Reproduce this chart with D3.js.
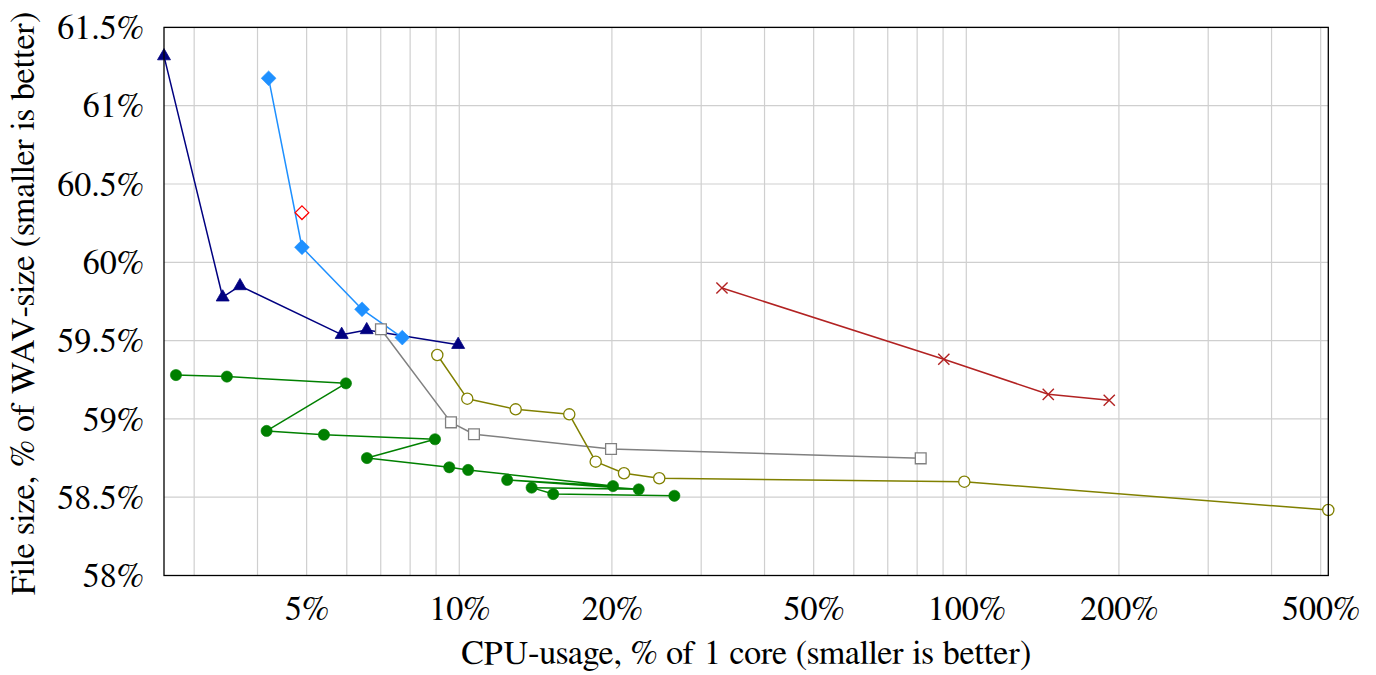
<!DOCTYPE html>
<html>
<head>
<meta charset="utf-8">
<script src="https://cdn.jsdelivr.net/npm/d3@7"></script>
<style>
  html, body { margin: 0; padding: 0; background: #fff; }
  svg { display: block; }
</style>
</head>
<body>
<svg id="chart" width="1376" height="675"></svg>
<script>
// ---------- data (CPU-usage % of 1 core, file size % of WAV) ----------
const navyX  = [2.616, 3.415, 3.694, 5.862, 6.568, 9.95];
const navyY  = [61.317, 59.777, 59.849, 59.538, 59.568, 59.474];

const blueX  = [4.207, 4.895, 6.43, 7.72];
const blueY  = [61.175, 60.096, 59.70, 59.519];

const redX   = [4.895];
const redY   = [60.317];

const grayX  = [7.007, 9.63, 10.69, 19.92, 81.3];
const grayY  = [59.572, 58.978, 58.902, 58.808, 58.748];

const oliveX = [9.05, 10.37, 12.92, 16.48, 18.58, 21.13, 24.8, 99.1, 517.6];
const oliveY = [59.408, 59.129, 59.061, 59.029, 58.727, 58.653, 58.621, 58.599, 58.418];

const crossX = [32.97, 90.3, 145.1, 191.4];
const crossY = [59.836, 59.381, 59.157, 59.119];

const greenX = [2.762, 3.481, 5.977, 4.169, 5.409, 8.956, 6.575, 9.556, 10.41, 20.1, 12.43, 22.59, 13.89, 15.32, 26.56];
const greenY = [59.280, 59.270, 59.227, 58.923, 58.899, 58.870, 58.750, 58.691, 58.674, 58.571, 58.610, 58.550, 58.561, 58.520, 58.509];

const xTickValues = [5, 10, 20, 50, 100, 200, 500];
const xTickLabels = ["5%", "10%", "20%", "50%", "100%", "200%", "500%"];
const xGridValues = [3, 4, 5, 6, 7, 8, 9, 10, 20, 30, 40, 50, 60, 70, 80, 90, 100, 200, 300, 400, 500];
const yTickValues = [58, 58.5, 59, 59.5, 60, 60.5, 61, 61.5];
const yTickLabels = ["58%", "58.5%", "59%", "59.5%", "60%", "60.5%", "61%", "61.5%"];

const xLabel = "CPU-usage, % of 1 core (smaller is better)";
const yLabel = "File size, % of WAV-size (smaller is better)";

// ---------- layout ----------
const FONT = "FreeSerif, 'Liberation Serif', serif";
const L = 164, R = 1328.3, T = 27.4, B = 575.5;
const allX = [].concat(navyX, blueX, redX, grayX, oliveX, crossX, greenX);

const x = d3.scaleLog().domain(d3.extent(allX)).range([L, R]);
const y = d3.scaleLinear().domain([58, 61.5]).range([B, T]);

const svg = d3.select("#chart");

// grid
const grid = svg.append("g").attr("stroke", "#cfcfcf").attr("stroke-width", 1.2);
grid.selectAll("line.vx").data(xGridValues).join("line")
  .attr("x1", d => x(d)).attr("x2", d => x(d)).attr("y1", T).attr("y2", B);
grid.selectAll("line.hy").data(yTickValues).join("line")
  .attr("x1", L).attr("x2", R).attr("y1", d => y(d)).attr("y2", d => y(d));

// axes (labels only, via d3 axis)
const fs = 34;
const xAxis = d3.axisBottom(x).tickValues(xTickValues)
  .tickFormat((d, i) => xTickLabels[i]).tickSize(0).tickPadding(0);
const gx = svg.append("g").attr("transform", `translate(0,${B})`).call(xAxis)
  .attr("font-family", FONT).attr("font-size", fs);
gx.select(".domain").remove();
gx.selectAll("text").attr("font-family", FONT).attr("font-size", fs)
  .attr("dy", null).attr("y", 44).attr("fill", "#000");

const yAxis = d3.axisLeft(y).tickValues(yTickValues)
  .tickFormat((d, i) => yTickLabels[i]).tickSize(0).tickPadding(0);
const gy = svg.append("g").attr("transform", `translate(${L},0)`).call(yAxis)
  .attr("font-family", FONT).attr("font-size", fs);
gy.select(".domain").remove();
gy.selectAll("text").attr("font-family", FONT).attr("font-size", fs)
  .attr("x", -20).attr("dy", "0.33em").attr("fill", "#000");

// axis titles
svg.append("text").attr("x", (L + R) / 2).attr("y", 664)
  .attr("font-family", FONT).attr("font-size", fs)
  .attr("text-anchor", "middle").text(xLabel);
svg.append("text").attr("transform", `translate(34,${(T + B) / 2 + 2}) rotate(-90)`)
  .attr("font-family", FONT).attr("font-size", fs)
  .attr("text-anchor", "middle").text(yLabel);

// ---------- series ----------
const plot = svg.append("g");
const line = d3.line().x(d => x(d[0])).y(d => y(d[1]));
function zip(a, b) { return a.map((v, i) => [v, b[i]]); }

function drawSeries(xs, ys, color, marker, drawLine = true) {
  const pts = zip(xs, ys);
  const g = plot.append("g");
  if (drawLine && pts.length > 1) {
    g.append("path").datum(pts).attr("d", line)
      .attr("fill", "none").attr("stroke", color).attr("stroke-width", 1.5)
      .attr("stroke-linejoin", "round");
  }
  const m = g.selectAll("path.m").data(pts).join("path")
    .attr("class", "m")
    .attr("transform", d => `translate(${x(d[0])},${y(d[1])})`);
  marker(m, color);
}

const triangle = (sel, c) => {
  const r = 7.5;
  const p = `M0,${-r} L${r * 0.866},${r * 0.5} L${-r * 0.866},${r * 0.5} Z`;
  sel.attr("d", p).attr("fill", c).attr("stroke", c).attr("stroke-width", 0.8);
};
const diamondFill = (sel, c) => {
  const r = 7.4;
  sel.attr("d", `M0,${-r} L${r},0 L0,${r} L${-r},0 Z`).attr("fill", c).attr("stroke", c).attr("stroke-width", 0.6);
};
const diamondOpen = (sel, c) => {
  const r = 6.8;
  sel.attr("d", `M0,${-r} L${r},0 L0,${r} L${-r},0 Z`).attr("fill", "#fff").attr("stroke", c).attr("stroke-width", 1.3);
};
const squareOpen = (sel, c) => {
  const r = 5.4;
  sel.attr("d", `M${-r},${-r} H${r} V${r} H${-r} Z`).attr("fill", "#fff").attr("stroke", c).attr("stroke-width", 1.3);
};
const circleOpen = (sel, c) => {
  const r = 5.6;
  sel.attr("d", d3.arc()({innerRadius: 0, outerRadius: r, startAngle: 0, endAngle: 2 * Math.PI}))
    .attr("fill", "#fff").attr("stroke", c).attr("stroke-width", 1.3);
};
const circleFill = (sel, c) => {
  const r = 5.6;
  sel.attr("d", d3.arc()({innerRadius: 0, outerRadius: r, startAngle: 0, endAngle: 2 * Math.PI}))
    .attr("fill", c).attr("stroke", c).attr("stroke-width", 0.6);
};
const cross = (sel, c) => {
  const r = 5.6;
  sel.attr("d", `M${-r},${-r} L${r},${r} M${-r},${r} L${r},${-r}`).attr("fill", "none").attr("stroke", c).attr("stroke-width", 1.4);
};

drawSeries(navyX, navyY, "#000080", triangle);
drawSeries(blueX, blueY, "#1e90ff", diamondFill);
drawSeries(redX, redY, "#ff0000", diamondOpen, false);
drawSeries(grayX, grayY, "#808080", squareOpen);
drawSeries(oliveX, oliveY, "#808000", circleOpen);
drawSeries(crossX, crossY, "#b22222", cross);
drawSeries(greenX, greenY, "#008000", circleFill);

// frame
svg.append("rect").attr("x", L).attr("y", T).attr("width", R - L).attr("height", B - T)
  .attr("fill", "none").attr("stroke", "#000").attr("stroke-width", 1.3);
</script>
</body>
</html>
